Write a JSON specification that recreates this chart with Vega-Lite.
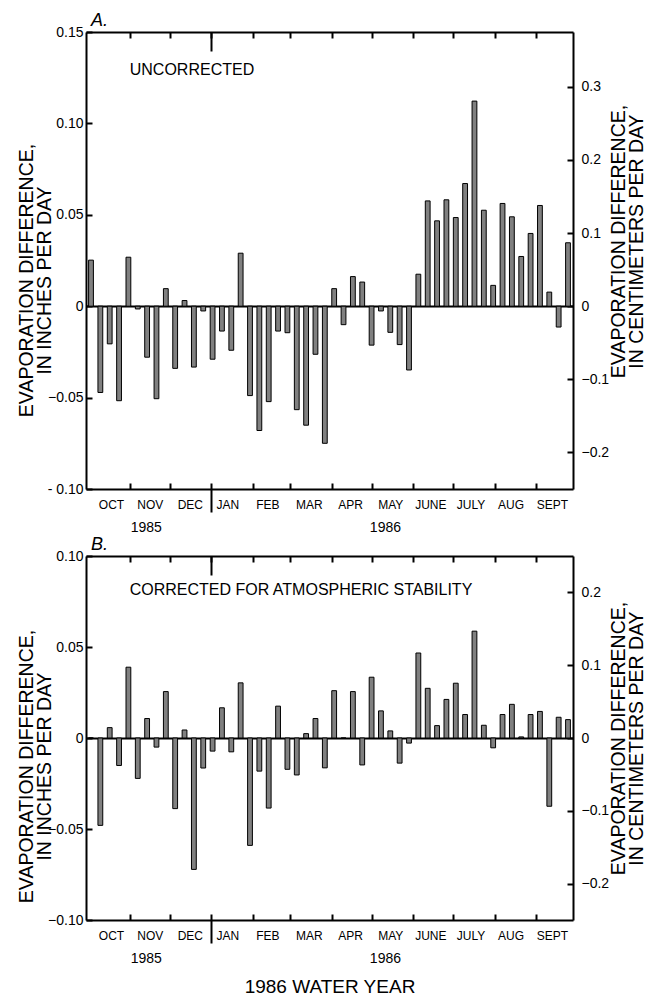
{
  "$schema": "https://vega.github.io/schema/vega-lite/v6.json",
  "background": "white",
  "padding": {"left": 16, "top": 12, "right": 0, "bottom": 0},
  "spacing": 2,
  "config": {
    "view": {"stroke": null},
    "font": "Liberation Sans",
    "axis": {"grid": false, "labelFont": "Liberation Sans", "titleFont": "Liberation Sans", "labelColor": "black", "titleColor": "black", "tickColor": "black", "domainColor": "black", "titleFontWeight": "normal", "labelFontSize": 12, "titleFontSize": 19.5, "domainWidth": 2, "tickWidth": 2},
    "title": {"font": "Liberation Sans", "fontSize": 18, "fontStyle": "italic", "fontWeight": "normal", "anchor": "start", "frame": "group", "color": "black"}
  },
  "vconcat": [
    {
      "width": 487, "height": 457,
      "title": {"text": "A.", "dx": 5, "offset": -5},
      "data": {"values": [
        {"date": "1985-10-03", "value": 0.0252}, {"date": "1985-10-10", "value": -0.0472}, {"date": "1985-10-17", "value": -0.0206}, {"date": "1985-10-24", "value": -0.0517},
        {"date": "1985-10-31", "value": 0.0268}, {"date": "1985-11-07", "value": -0.0015}, {"date": "1985-11-14", "value": -0.0279}, {"date": "1985-11-21", "value": -0.0506},
        {"date": "1985-11-28", "value": 0.0096}, {"date": "1985-12-05", "value": -0.034}, {"date": "1985-12-12", "value": 0.0031}, {"date": "1985-12-19", "value": -0.0333},
        {"date": "1985-12-26", "value": -0.0026}, {"date": "1986-01-02", "value": -0.029}, {"date": "1986-01-09", "value": -0.0136}, {"date": "1986-01-16", "value": -0.0241},
        {"date": "1986-01-23", "value": 0.029}, {"date": "1986-01-30", "value": -0.0489}, {"date": "1986-02-06", "value": -0.068}, {"date": "1986-02-13", "value": -0.0522},
        {"date": "1986-02-20", "value": -0.0136}, {"date": "1986-02-27", "value": -0.0145}, {"date": "1986-03-06", "value": -0.0566}, {"date": "1986-03-13", "value": -0.0651},
        {"date": "1986-03-20", "value": -0.0263}, {"date": "1986-03-27", "value": -0.075}, {"date": "1986-04-03", "value": 0.0096}, {"date": "1986-04-10", "value": -0.0101},
        {"date": "1986-04-17", "value": 0.0162}, {"date": "1986-04-24", "value": 0.0132}, {"date": "1986-05-01", "value": -0.0213}, {"date": "1986-05-08", "value": -0.0026},
        {"date": "1986-05-15", "value": -0.0143}, {"date": "1986-05-22", "value": -0.021}, {"date": "1986-05-29", "value": -0.0349}, {"date": "1986-06-05", "value": 0.0175},
        {"date": "1986-06-12", "value": 0.0576}, {"date": "1986-06-19", "value": 0.0467}, {"date": "1986-06-26", "value": 0.0582}, {"date": "1986-07-03", "value": 0.0485},
        {"date": "1986-07-10", "value": 0.0671}, {"date": "1986-07-17", "value": 0.1122}, {"date": "1986-07-24", "value": 0.0525}, {"date": "1986-07-31", "value": 0.0114},
        {"date": "1986-08-07", "value": 0.0562}, {"date": "1986-08-14", "value": 0.0489}, {"date": "1986-08-21", "value": 0.0272}, {"date": "1986-08-28", "value": 0.0398},
        {"date": "1986-09-04", "value": 0.0551}, {"date": "1986-09-11", "value": 0.0077}, {"date": "1986-09-18", "value": -0.0114}, {"date": "1986-09-25", "value": 0.0347}
      ]},
      "encoding": {
        "x": {"field": "date", "type": "temporal", "scale": {"domain": ["1985-10-03", "1986-09-25"]}},
        "y": {"field": "value", "type": "quantitative", "scale": {"domain": [-0.1, 0.15], "nice": false, "zero": false}}
      },
      "layer": [
        {
          "mark": {"type": "bar", "width": 4.8, "fill": "#808080", "stroke": "black", "strokeWidth": 1, "clip": true},
          "encoding": {
            "x": {"field": "date", "type": "temporal",
              "axis": {"orient": "bottom", "title": null, "ticks": false, "domain": true, "labelPadding": 10, "labelFlush": false, "labelOverlap": false, "labelBound": false,
                "values": ["1985-10-18", "1985-11-16", "1985-12-16", "1986-01-13", "1986-02-12", "1986-03-15", "1986-04-15", "1986-05-15", "1986-06-14", "1986-07-14", "1986-08-13", "1986-09-13"],
                "labelExpr": "['JAN','FEB','MAR','APR','MAY','JUNE','JULY','AUG','SEPT','OCT','NOV','DEC'][utcmonth(datum.value)]"}},
            "y": {"field": "value", "type": "quantitative",
              "axis": {"orient": "left", "values": [-0.1, -0.05, 0, 0.05, 0.1, 0.15], "tickSize": -6, "labelPadding": 9, "labelFontSize": 14,
                "grid": true, "gridColor": "black", "gridWidth": 2, "gridOpacity": {"condition": {"test": "datum.value == 0", "value": 1}, "value": 0},
                "labelExpr": "datum.value == 0 ? '0' : (datum.value < -0.09 ? '- 0.10' : format(datum.value, '.2f'))",
                "title": ["EVAPORATION DIFFERENCE,", "IN INCHES PER DAY"], "titlePadding": -7, "titleLineHeight": 18, "titleY": 248}}
          }
        },
        {
          "mark": {"type": "point", "opacity": 0},
          "encoding": {
            "x": {"field": "date", "type": "temporal",
              "axis": {"orient": "bottom", "title": null, "labels": false, "domain": false, "tickSize": -6,
                "values": ["1985-11-01", "1985-12-01", "1986-01-01", "1986-02-01", "1986-03-01", "1986-04-01", "1986-05-01", "1986-06-01", "1986-07-01", "1986-08-01", "1986-09-01"]}},
            "y": {"field": "value", "type": "quantitative", "axis": null}
          }
        },
        {
          "mark": {"type": "point", "opacity": 0},
          "encoding": {
            "x": {"field": "date", "type": "temporal",
              "axis": {"orient": "bottom", "title": null, "labels": false, "domain": false, "tickSize": 23, "values": ["1986-01-01"]}},
            "y": {"field": "value", "type": "quantitative", "axis": null}
          }
        },
        {
          "mark": {"type": "point", "opacity": 0},
          "encoding": {
            "x": {"field": "date", "type": "temporal",
              "axis": {"orient": "top", "title": null, "labels": false, "domain": true, "tickSize": -6,
                "values": ["1985-11-01", "1985-12-01", "1986-01-01", "1986-02-01", "1986-03-01", "1986-04-01", "1986-05-01", "1986-06-01", "1986-07-01", "1986-08-01", "1986-09-01"]}},
            "y": {"field": "value", "type": "quantitative", "axis": null}
          }
        },
        {
          "mark": {"type": "point", "opacity": 0},
          "encoding": {
            "x": {"field": "date", "type": "temporal",
              "axis": {"orient": "top", "title": null, "labels": false, "domain": false, "tickSize": -19, "values": ["1986-01-01"]}},
            "y": {"field": "value", "type": "quantitative", "axis": null}
          }
        },
        {
          "mark": {"type": "point", "opacity": 0},
          "encoding": {
            "x": {"field": "date", "type": "temporal",
              "axis": {"orient": "bottom", "title": null, "ticks": false, "domain": false, "labelPadding": 31, "labelFontSize": 14, "labelFlush": false, "labelOverlap": false,
                "values": ["1985-11-13", "1986-05-11"], "labelExpr": "'' + utcyear(datum.value)"}},
            "y": {"field": "value", "type": "quantitative", "axis": null}
          }
        },
        {
          "mark": {"type": "point", "opacity": 0},
          "encoding": {
            "x": {"field": "date", "type": "temporal", "axis": null},
            "y": {"field": "value", "type": "quantitative",
              "axis": {"orient": "right", "values": [-0.08, -0.04, 0, 0.04, 0.08, 0.12], "tickSize": -6, "labelPadding": 14, "labelFontSize": 14,
                "labelExpr": "datum.value == 0 ? '0' : format(datum.value * 2.5, '.1f')",
                "title": ["EVAPORATION DIFFERENCE,", "IN CENTIMETERS PER DAY"], "titleAngle": 270, "titleBaseline": "top", "titlePadding": -17, "titleLineHeight": 18, "titleY": 209}}
          }
        },
        {
          "data": {"values": [{"label": "UNCORRECTED", "date": "1985-11-01", "value": 0.129}]},
          "mark": {"type": "text", "align": "left", "baseline": "middle", "fontSize": 16, "font": "Liberation Sans", "color": "black"},
          "encoding": {
            "x": {"field": "date", "type": "temporal", "axis": null},
            "y": {"field": "value", "type": "quantitative", "axis": null},
            "text": {"field": "label"}
          }
        }
      ],
      "resolve": {"axis": {"x": "independent", "y": "independent"}}
    },
    {
      "width": 487, "height": 364,
      "title": {"text": "B.", "dx": 5, "offset": -5},
      "data": {"values": [
        {"date": "1985-10-03", "value": 0}, {"date": "1985-10-10", "value": -0.048}, {"date": "1985-10-17", "value": 0.0057}, {"date": "1985-10-24", "value": -0.0151},
        {"date": "1985-10-31", "value": 0.0389}, {"date": "1985-11-07", "value": -0.0222}, {"date": "1985-11-14", "value": 0.0107}, {"date": "1985-11-21", "value": -0.005},
        {"date": "1985-11-28", "value": 0.0255}, {"date": "1985-12-05", "value": -0.0388}, {"date": "1985-12-12", "value": 0.0044}, {"date": "1985-12-19", "value": -0.0722},
        {"date": "1985-12-26", "value": -0.0165}, {"date": "1986-01-02", "value": -0.0072}, {"date": "1986-01-09", "value": 0.0166}, {"date": "1986-01-16", "value": -0.0076},
        {"date": "1986-01-23", "value": 0.0303}, {"date": "1986-01-30", "value": -0.059}, {"date": "1986-02-06", "value": -0.0182}, {"date": "1986-02-13", "value": -0.0385},
        {"date": "1986-02-20", "value": 0.0175}, {"date": "1986-02-27", "value": -0.0172}, {"date": "1986-03-06", "value": -0.0203}, {"date": "1986-03-13", "value": 0.0024},
        {"date": "1986-03-20", "value": 0.0107}, {"date": "1986-03-27", "value": -0.0164}, {"date": "1986-04-03", "value": 0.026}, {"date": "1986-04-10", "value": 0},
        {"date": "1986-04-17", "value": 0.0255}, {"date": "1986-04-24", "value": -0.0148}, {"date": "1986-05-01", "value": 0.0334}, {"date": "1986-05-08", "value": 0.0149},
        {"date": "1986-05-15", "value": 0.0039}, {"date": "1986-05-22", "value": -0.0138}, {"date": "1986-05-29", "value": -0.0028}, {"date": "1986-06-05", "value": 0.0467},
        {"date": "1986-06-12", "value": 0.0273}, {"date": "1986-06-19", "value": 0.0068}, {"date": "1986-06-26", "value": 0.0212}, {"date": "1986-07-03", "value": 0.0301},
        {"date": "1986-07-10", "value": 0.0129}, {"date": "1986-07-17", "value": 0.0587}, {"date": "1986-07-24", "value": 0.007}, {"date": "1986-07-31", "value": -0.0054},
        {"date": "1986-08-07", "value": 0.0129}, {"date": "1986-08-14", "value": 0.0185}, {"date": "1986-08-21", "value": 0.0006}, {"date": "1986-08-28", "value": 0.0129},
        {"date": "1986-09-04", "value": 0.0146}, {"date": "1986-09-11", "value": -0.0375}, {"date": "1986-09-18", "value": 0.0114}, {"date": "1986-09-25", "value": 0.0101}
      ]},
      "encoding": {
        "x": {"field": "date", "type": "temporal", "scale": {"domain": ["1985-10-03", "1986-09-25"]}},
        "y": {"field": "value", "type": "quantitative", "scale": {"domain": [-0.1, 0.1], "nice": false, "zero": false}}
      },
      "layer": [
        {
          "mark": {"type": "bar", "width": 4.8, "fill": "#808080", "stroke": "black", "strokeWidth": 1, "clip": true},
          "encoding": {
            "x": {"field": "date", "type": "temporal",
              "axis": {"orient": "bottom", "title": null, "ticks": false, "domain": true, "labelPadding": 10, "labelFlush": false, "labelOverlap": false, "labelBound": false,
                "values": ["1985-10-18", "1985-11-16", "1985-12-16", "1986-01-13", "1986-02-12", "1986-03-15", "1986-04-15", "1986-05-15", "1986-06-14", "1986-07-14", "1986-08-13", "1986-09-13"],
                "labelExpr": "['JAN','FEB','MAR','APR','MAY','JUNE','JULY','AUG','SEPT','OCT','NOV','DEC'][utcmonth(datum.value)]"}},
            "y": {"field": "value", "type": "quantitative",
              "axis": {"orient": "left", "values": [-0.1, -0.05, 0, 0.05, 0.1], "tickSize": -6, "labelPadding": 9, "labelFontSize": 14,
                "grid": true, "gridColor": "black", "gridWidth": 2, "gridOpacity": {"condition": {"test": "datum.value == 0", "value": 1}, "value": 0},
                "labelExpr": "datum.value == 0 ? '0' : format(datum.value, '.2f')",
                "title": ["EVAPORATION DIFFERENCE,", "IN INCHES PER DAY"], "titlePadding": -7, "titleLineHeight": 18, "titleY": 210}}
          }
        },
        {
          "mark": {"type": "point", "opacity": 0},
          "encoding": {
            "x": {"field": "date", "type": "temporal",
              "axis": {"orient": "bottom", "title": null, "labels": false, "domain": false, "tickSize": -6,
                "values": ["1985-11-01", "1985-12-01", "1986-01-01", "1986-02-01", "1986-03-01", "1986-04-01", "1986-05-01", "1986-06-01", "1986-07-01", "1986-08-01", "1986-09-01"]}},
            "y": {"field": "value", "type": "quantitative", "axis": null}
          }
        },
        {
          "mark": {"type": "point", "opacity": 0},
          "encoding": {
            "x": {"field": "date", "type": "temporal",
              "axis": {"orient": "bottom", "title": null, "labels": false, "domain": false, "tickSize": 23, "values": ["1986-01-01"]}},
            "y": {"field": "value", "type": "quantitative", "axis": null}
          }
        },
        {
          "mark": {"type": "point", "opacity": 0},
          "encoding": {
            "x": {"field": "date", "type": "temporal",
              "axis": {"orient": "top", "title": null, "labels": false, "domain": true, "tickSize": -6,
                "values": ["1985-11-01", "1985-12-01", "1986-01-01", "1986-02-01", "1986-03-01", "1986-04-01", "1986-05-01", "1986-06-01", "1986-07-01", "1986-08-01", "1986-09-01"]}},
            "y": {"field": "value", "type": "quantitative", "axis": null}
          }
        },
        {
          "mark": {"type": "point", "opacity": 0},
          "encoding": {
            "x": {"field": "date", "type": "temporal",
              "axis": {"orient": "top", "title": null, "labels": false, "domain": false, "tickSize": -19, "values": ["1986-01-01"]}},
            "y": {"field": "value", "type": "quantitative", "axis": null}
          }
        },
        {
          "mark": {"type": "point", "opacity": 0},
          "encoding": {
            "x": {"field": "date", "type": "temporal",
              "axis": {"orient": "bottom", "title": "1986 WATER YEAR", "titleFontSize": 19, "titlePadding": 12, "ticks": false, "domain": false, "labelPadding": 31, "labelFontSize": 14, "labelFlush": false, "labelOverlap": false,
                "values": ["1985-11-13", "1986-05-11"], "labelExpr": "'' + utcyear(datum.value)"}},
            "y": {"field": "value", "type": "quantitative", "axis": null}
          }
        },
        {
          "mark": {"type": "point", "opacity": 0},
          "encoding": {
            "x": {"field": "date", "type": "temporal", "axis": null},
            "y": {"field": "value", "type": "quantitative",
              "axis": {"orient": "right", "values": [-0.08, -0.04, 0, 0.04, 0.08], "tickSize": -6, "labelPadding": 14, "labelFontSize": 14,
                "labelExpr": "datum.value == 0 ? '0' : format(datum.value * 2.5, '.1f')",
                "title": ["EVAPORATION DIFFERENCE,", "IN CENTIMETERS PER DAY"], "titleAngle": 270, "titleBaseline": "top", "titlePadding": -17, "titleLineHeight": 18}}
          }
        },
        {
          "data": {"values": [{"label": "CORRECTED FOR ATMOSPHERIC STABILITY", "date": "1985-11-01", "value": 0.0815}]},
          "mark": {"type": "text", "align": "left", "baseline": "middle", "fontSize": 16, "font": "Liberation Sans", "color": "black"},
          "encoding": {
            "x": {"field": "date", "type": "temporal", "axis": null},
            "y": {"field": "value", "type": "quantitative", "axis": null},
            "text": {"field": "label"}
          }
        }
      ],
      "resolve": {"axis": {"x": "independent", "y": "independent"}}
    }
  ]
}
